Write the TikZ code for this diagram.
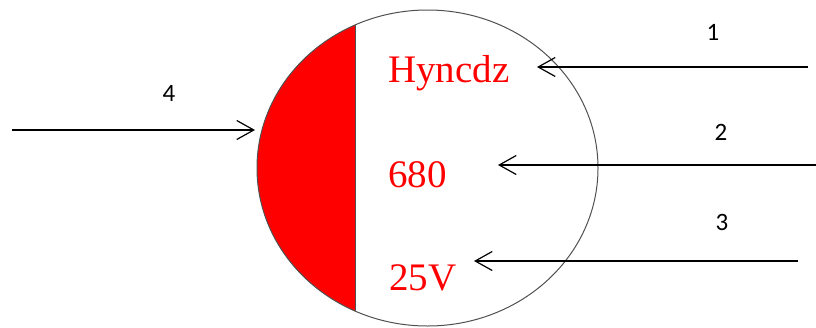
\documentclass[tikz,border=0pt]{standalone}
\usepackage{fontspec}
\setmainfont{Liberation Serif}
\newfontfamily\labelfont{Carlito}
\usetikzlibrary{arrows.meta,positioning,shapes.geometric}
\definecolor{capred}{RGB}{255,0,0}
\definecolor{capgray}{RGB}{80,80,80}
\tikzset{
  marktext/.style={text=capred, font=\fontsize{39}{40}\selectfont,
                   anchor=base west, inner sep=0pt},
  numlabel/.style={font=\labelfont\fontsize{25}{26}\selectfont, inner sep=0pt},
  pointer/.style={line width=1.2pt,
                  -{Straight Barb[length=17pt,width=19pt,line width=1.2pt]}},
}
\begin{document}
\begin{tikzpicture}[x=1pt,y=-1pt]
\useasboundingbox (0,0) rectangle (816,327);

% --- Capacitor top view ---
\begin{scope}
  \clip (427.5,168) ellipse [x radius=170.5, y radius=158];
  \filldraw[fill=capred, draw=capgray, line width=1pt] (200,0) rectangle (355,340);
\end{scope}
\node[draw=capgray, line width=1pt, ellipse, minimum width=341pt,
      minimum height=316pt, inner sep=0pt] (cap) at (427.5,168) {};

% Markings
\node[marktext] (brand) at (388,82) {Hyncdz};
\node[marktext] (value) at (388,187) {680};
\node[marktext] (volt) at (389,290) {25V};

% --- Pointers ---
\coordinate (in1) at (808,67);
\coordinate (tip1) at (537,67);
\coordinate (in2) at (816,165);
\coordinate (tip2) at (498,165);
\coordinate (in3) at (798,261);
\coordinate (tip3) at (474,261);
\coordinate (in4) at (12,130);
\coordinate (tip4) at (255,130);
\draw[pointer] (in1) -- (tip1);
\draw[pointer] (in2) -- (tip2);
\draw[pointer] (in3) -- (tip3);
\draw[pointer] (in4) -- (tip4);

% Labels
\node[numlabel] (lab1) at (713,32) {1};
\node[numlabel] (lab2) at (721,132) {2};
\node[numlabel] (lab3) at (722,222) {3};
\node[numlabel] (lab4) at (169,93) {4};

\end{tikzpicture}
\end{document}
